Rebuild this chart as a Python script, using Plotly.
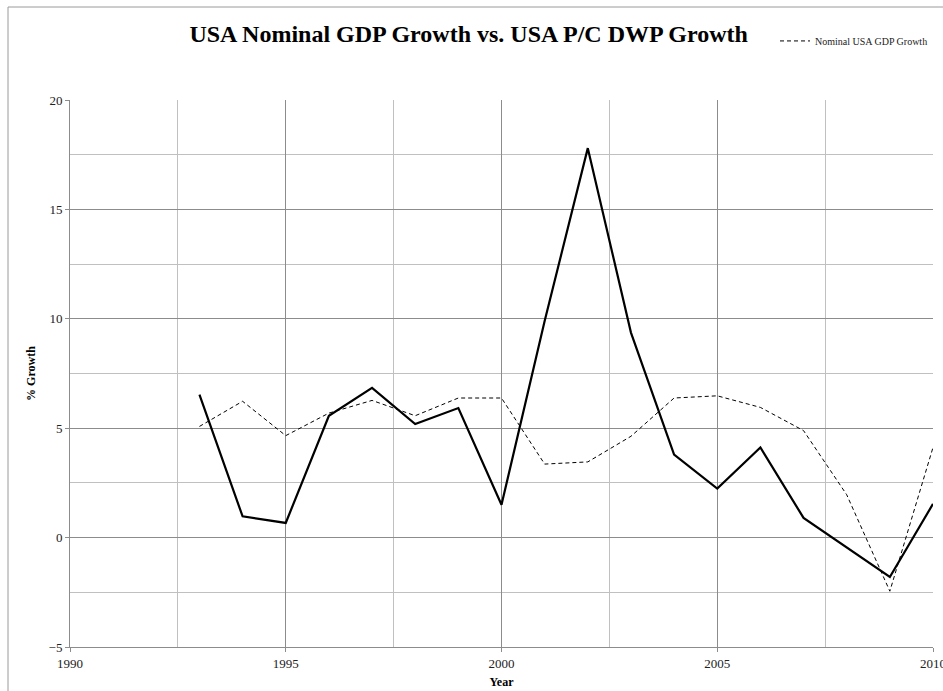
import plotly.graph_objects as go

years = [1993, 1994, 1995, 1996, 1997, 1998, 1999, 2000, 2001, 2002,
         2003, 2004, 2005, 2006, 2007, 2008, 2009, 2010]
dwp_growth = [6.53, 0.97, 0.67, 5.57, 6.84, 5.19, 5.92, 1.50, 9.9, 17.8,
              9.37, 3.79, 2.24, 4.12, 0.90, -0.45, -1.80, 1.54]
gdp_growth = [5.08, 6.23, 4.66, 5.69, 6.27, 5.57, 6.38, 6.38, 3.36, 3.46,
              4.63, 6.38, 6.48, 5.95, 4.89, 1.96, -2.45, 4.12]

title_text = "USA Nominal GDP Growth vs. USA P/C DWP Growth"
gdp_name = "Nominal USA GDP Growth"
dwp_name = "USA P/C DWP Growth"

FONT = "Liberation Serif"

fig = go.Figure()
fig.add_trace(go.Scatter(
    x=years, y=gdp_growth, mode="lines", name=gdp_name,
    line=dict(color="black", width=1, dash="4px,3px"),
    showlegend=True,
))
fig.add_trace(go.Scatter(
    x=years, y=dwp_growth, mode="lines", name=dwp_name,
    line=dict(color="black", width=2.2),
    showlegend=False,
))

major_grid = "#8c8c8c"
minor_grid = "#c0c0c0"

fig.update_layout(
    width=943, height=691,
    margin=dict(l=70, r=10, t=100, b=44, autoexpand=False),
    paper_bgcolor="white", plot_bgcolor="white",
    font=dict(family=FONT, color="#222222", size=12),
    title=dict(text="<b>" + title_text + "</b>", x=0.497, xanchor="center",
               y=0.952, yanchor="middle",
               font=dict(family=FONT, size=24, color="black")),
    showlegend=True,
    legend=dict(x=1.0, xanchor="right", y=1.108, yanchor="middle",
                font=dict(family=FONT, size=10, color="#222222"),
                bgcolor="rgba(0,0,0,0)", itemwidth=30),
    xaxis=dict(
        range=[1990, 2010], tickmode="array",
        tickvals=[1990, 1995, 2000, 2005, 2010],
        ticktext=["1990", "1995", "2000", "2005", "2010"],
        ticklabeloverflow="allow", automargin=False,
        showgrid=True, gridcolor=major_grid, gridwidth=1,
        minor=dict(tickvals=[1992.5, 1997.5, 2002.5, 2007.5], showgrid=True,
                   gridcolor=minor_grid, gridwidth=1, ticks=""),
        showline=True, linecolor=major_grid, linewidth=1,
        ticks="outside", ticklen=4, tickcolor=major_grid,
        zeroline=False,
        title=dict(text="<b>Year</b>", font=dict(family=FONT, size=12, color="black"),
                   standoff=8),
        tickfont=dict(family=FONT, size=13, color="#222222"),
    ),
    yaxis=dict(
        range=[-5, 20], tickmode="array",
        tickvals=[-5, 0, 5, 10, 15, 20],
        ticklabeloverflow="allow", automargin=False,
        showgrid=True, gridcolor=major_grid, gridwidth=1,
        minor=dict(tickvals=[-2.5, 2.5, 7.5, 12.5, 17.5], showgrid=True,
                   gridcolor=minor_grid, gridwidth=1, ticks=""),
        showline=True, linecolor=major_grid, linewidth=1,
        ticks="outside", ticklen=4, tickcolor=major_grid,
        zeroline=False,
        title=dict(text="<b>% Growth</b>", font=dict(family=FONT, size=12, color="black"),
                   standoff=10),
        tickfont=dict(family=FONT, size=13, color="#222222"),
    ),
)

# outer chart border (partly outside the visible window, as in the reference)
fig.add_shape(type="rect", xref="paper", yref="paper",
              x0=(8 - 70) / 863, x1=(960 - 70) / 863,
              y0=(647 - 710) / 547, y1=(647 - 7) / 547,
              line=dict(color="#9a9a9a", width=1), fillcolor="rgba(0,0,0,0)",
              layer="below")

fig.write_html("out.html")
